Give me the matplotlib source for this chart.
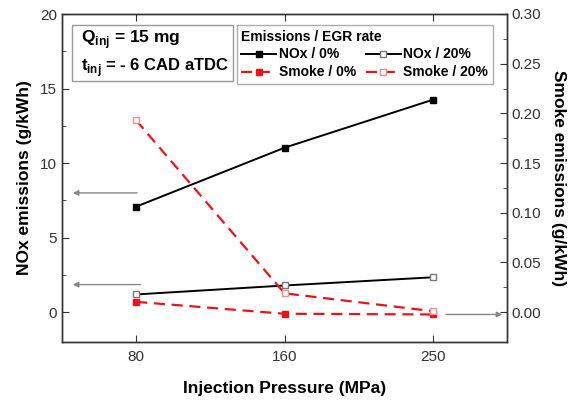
import numpy as np
import matplotlib
matplotlib.use("Agg")
import matplotlib.pyplot as plt
from matplotlib.patches import Rectangle

plt.rcParams['font.family'] = ['Liberation Sans', 'DejaVu Sans']

# Datos
presiones = ["80", "160", "250"]
nox_0 = [7.08, 11.03, 14.25]
nox_20 = [1.19, 1.79, 2.34]
smoke_0 = [0.0104, -0.0016, -0.0023]
smoke_20 = [0.193, 0.019, 0.001]

x = np.arange(len(presiones))

fig = plt.figure(figsize=(5.72, 4.0), dpi=100)
ax = fig.add_axes([62/572, 1 - 342/400, (507 - 62)/572, (342 - 14)/400])
ax2 = ax.twinx()

rojo = '#e8141c'
l1, = ax.plot(x, nox_0, '-', color='black', lw=1.4, marker='s', ms=5,
              mfc='black', mec='black', label='NOx / 0%')
l2, = ax.plot(x, nox_20, '-', color='black', lw=1.4, marker='s', ms=5,
              mfc='white', mec='#777777', label='NOx / 20%')
l3, = ax2.plot(x, smoke_0, '--', color=rojo, lw=1.6, dashes=(5, 3),
               marker='s', ms=5, mfc=rojo, mec=rojo, label='Smoke / 0%')
l4, = ax2.plot(x, smoke_20, '--', color=rojo, lw=1.6, dashes=(5, 3),
               marker='s', ms=5, mfc='white', mec='#e89090', label='Smoke / 20%')

ax.set_xlim(-0.5, 2.5)
ax.set_ylim(-2, 20)
ax2.set_ylim(-0.03, 0.30)
ax.set_xticks(x)
ax.set_xticklabels(presiones)
ax.set_yticks([0, 5, 10, 15, 20])
ax.set_yticks([2.5, 7.5, 12.5, 17.5], minor=True)
ticks_der = [0, 0.05, 0.10, 0.15, 0.20, 0.25, 0.30]
ax2.set_yticks(ticks_der)
ax2.set_yticklabels([f"{v:.2f}" for v in ticks_der])
ax2.set_yticks([0.025, 0.075, 0.125, 0.175, 0.225, 0.275], minor=True)

ax.tick_params(axis='both', which='both', direction='in', top=True, labelsize=11,
               color='#333333', labelcolor='#333333')
ax.tick_params(which='major', length=5)
ax.tick_params(which='minor', length=3)
ax.tick_params(axis='x', pad=6)
ax2.tick_params(axis='y', which='both', direction='in', labelsize=11,
                color='#333333', labelcolor='#333333')
ax2.tick_params(which='major', length=5)
ax2.tick_params(which='minor', length=3)
for a in (ax, ax2):
    for s in a.spines.values():
        s.set_color('#333333')
        s.set_linewidth(1.0)

ax.set_xlabel("Injection Pressure (MPa)", fontsize=12.5, fontweight='bold', labelpad=12)
ax.set_ylabel("NOx emissions (g/kWh)", fontsize=12.5, fontweight='bold', labelpad=6)
ax2.set_ylabel("Smoke emissions (g/kWh)", fontsize=12.5, fontweight='bold',
               rotation=270, labelpad=18)

# Flechas indicando el eje correspondiente
arr = dict(arrowstyle='-|>', color='#888888', lw=1.0, mutation_scale=8)
ax.annotate("", xy=(-0.446, 8.0), xytext=(0.026, 8.0), arrowprops=arr)
ax.annotate("", xy=(-0.446, 1.85), xytext=(0.046, 1.85), arrowprops=arr)
ax2.annotate("", xy=(2.487, -0.0023), xytext=(2.07, -0.0023), arrowprops=arr)

# Cuadro de condiciones
ax.add_patch(Rectangle((0.0225, 0.796), 0.3615, 0.17, transform=ax.transAxes,
                       fc='white', ec='#999999', lw=1.0, zorder=5))
ax.text(0.0427, 0.922, r"Q$_{\mathregular{inj}}$ = 15 mg", transform=ax.transAxes,
        fontsize=12.5, fontweight='bold', va='center', ha='left', zorder=6)
ax.text(0.0427, 0.838, r"t$_{\mathregular{inj}}$ = - 6 CAD aTDC", transform=ax.transAxes,
        fontsize=12, fontweight='bold', va='center', ha='left', zorder=6)

leg = ax.legend(handles=[l1, l3, l2, l4], ncol=2, loc='upper left',
                bbox_to_anchor=(0.393, 0.966), title="Emissions / EGR rate",
                fontsize=10, title_fontsize=10, frameon=True, fancybox=False,
                edgecolor='#999999', handlelength=2.5, handletextpad=0.2,
                columnspacing=0.7, labelspacing=0.28, borderpad=0.32,
                borderaxespad=0, markerscale=0.9)
leg._legend_box.align = "left"
leg.get_title().set_fontweight('bold')
for t in leg.get_texts():
    t.set_fontweight('bold')
leg.get_frame().set_linewidth(1.0)
leg.set_zorder(6)

fig.savefig("out.png", dpi=100)
